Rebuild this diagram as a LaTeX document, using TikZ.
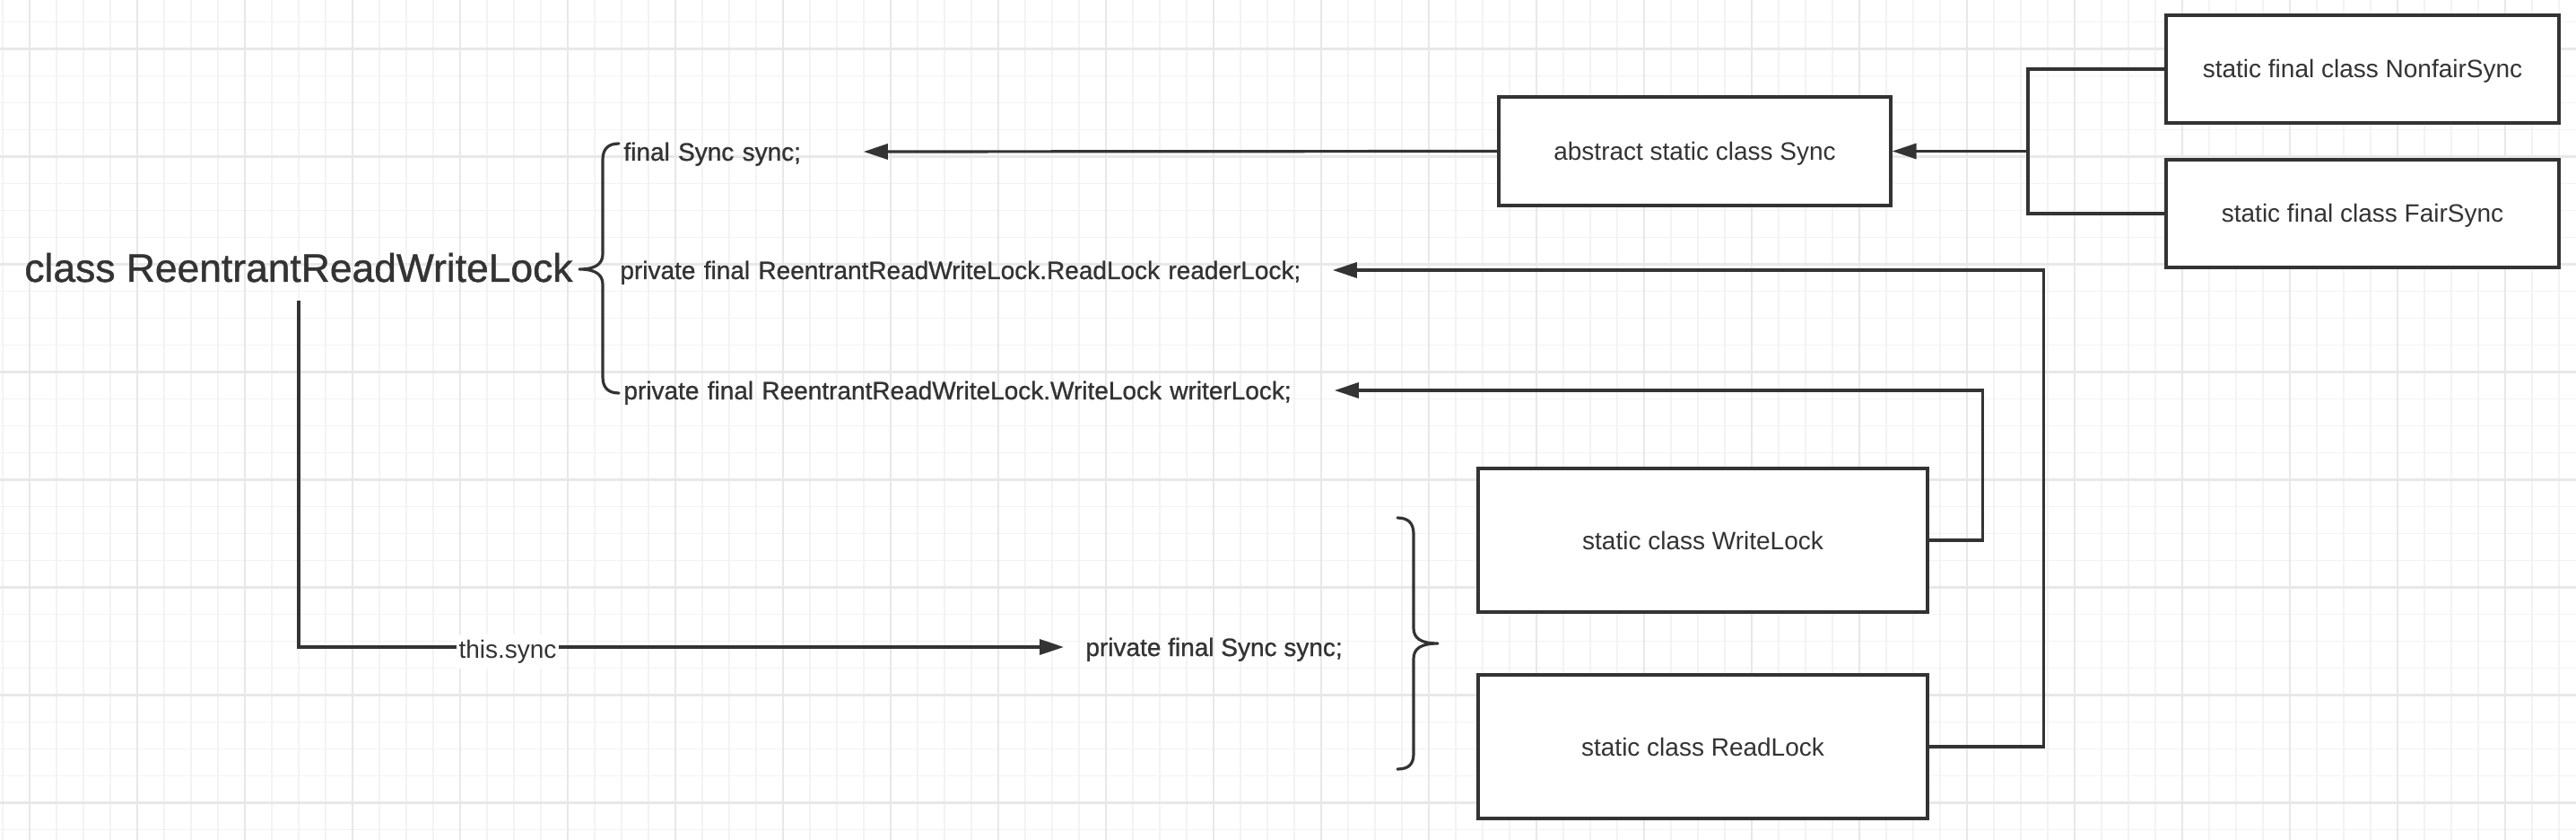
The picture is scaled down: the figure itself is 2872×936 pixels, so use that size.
\documentclass[tikz,border=0pt]{standalone}
\usepackage{fontspec}
\setmainfont{Liberation Sans}
\newfontfamily\medfont[FakeBold=0.9]{Liberation Sans}
\usetikzlibrary{arrows.meta}
\definecolor{ink}{HTML}{333333}
\definecolor{gminor}{HTML}{F3F3F3}
\definecolor{gmajor}{HTML}{E8E8E8}
\begin{document}
\begin{tikzpicture}[x=0.5pt,y=-0.5pt,
  txt/.style={font=\fontsize{14}{17}\selectfont, text=ink, text height=10pt, text depth=0pt},
  medtxt/.style={font=\medfont\fontsize{14}{17}\selectfont, text=ink, text height=10pt, text depth=0pt},
  cls/.style={txt, draw=ink, line width=1.6pt, fill=white, inner sep=0pt},
  smallbox/.style={cls, minimum width=219pt, minimum height=60pt},
  lockbox/.style={cls, minimum width=250.5pt, minimum height=80pt},
  field/.style={medtxt, inner sep=0pt, anchor=west, align=left},
  conn/.style={draw=ink, line width=1.6pt},
  arr/.style={conn, -{Triangle[length=13.5pt,width=8.5pt]}},
  bracepath/.style={conn, line cap=round, line join=round},
  gridminor/.style={draw=gminor, line width=0.75pt},
  gridmajor/.style={draw=gmajor, line width=1.2pt}
]
\useasboundingbox (0,0) rectangle (2872,936);
\fill[white] (0,0) rectangle (2872,936);
% grid
\foreach \i in {0,...,95} \draw[gridminor] ({3+30*\i},0) -- ({3+30*\i},936);
\foreach \i in {0,...,30} \draw[gridminor] (0,{24.5+30*\i}) -- (2872,{24.5+30*\i});
\foreach \i in {0,...,23} \draw[gridmajor] ({33+120*\i},0) -- ({33+120*\i},936);
\foreach \i in {0,...,7} \draw[gridmajor] (0,{54.5+120*\i}) -- (2872,{54.5+120*\i});

% class boxes
\node[cls, minimum width=218.5pt, minimum height=60.5pt] (sync) at (1889.5,168.5) {abstract static class Sync};
\node[smallbox] (nonfair) at (2634,77) {static final class NonfairSync};
\node[smallbox] (fair) at (2634,238) {static final class FairSync};
\node[lockbox] (write) at (1898.5,602) {static class WriteLock};
\node[lockbox] (read) at (1898.5,832) {static class ReadLock};

% texts
\node[text=ink, font=\medfont\fontsize{22.2}{27}\selectfont, anchor=base west, inner sep=0pt] (title) at (27,314) {class ReentrantReadWriteLock};
\node[field, text width=133.5pt] (fs) at (695,169) {final Sync sync;};
\node[field, text width=397pt] (rl) at (691,301) {private final ReentrantReadWriteLock.ReadLock readerLock;};
\node[field, text width=396pt] (wl) at (695,435) {private final ReentrantReadWriteLock.WriteLock writerLock;};
\node[medtxt, anchor=west, inner xsep=12pt, inner ysep=0pt] (ps) at (1186,721) {private final Sync sync;};

% braces
\draw[bracepath] (690,160) .. controls (678,160) and (672,166) .. (672,178) -- (672,283)
  .. controls (672,294) and (664,300) .. (646,300)
  .. controls (664,300) and (672,306) .. (672,317) -- (672,420)
  .. controls (672,432) and (678,438) .. (690,438);
\draw[bracepath] (1558,577) .. controls (1570,577) and (1576,583) .. (1576,595) -- (1576,700)
  .. controls (1576,711) and (1584,717) .. (1603,717)
  .. controls (1584,717) and (1576,723) .. (1576,734) -- (1576,840)
  .. controls (1576,852) and (1570,857) .. (1558,857);

% connectors
\draw[arr] (sync.west) -- (fs.east);
\coordinate (jn) at (2261,168.5);
\draw[conn] (nonfair.west) -| (jn) |- (fair.west);
\draw[arr] (jn) -- (sync.east);
\draw[arr] (write.east) -- ++(60,0) |- (wl.east);
\draw[arr] (read.east) -- ++(128,0) |- (rl.east);
\coordinate (t0) at (333,335);
\draw[arr] (t0) |- (ps.west);
\node[txt, fill=white, inner xsep=1.5pt, inner ysep=3pt, text depth=3pt] (ts) at (566,726) {this.sync};
\end{tikzpicture}
\end{document}
